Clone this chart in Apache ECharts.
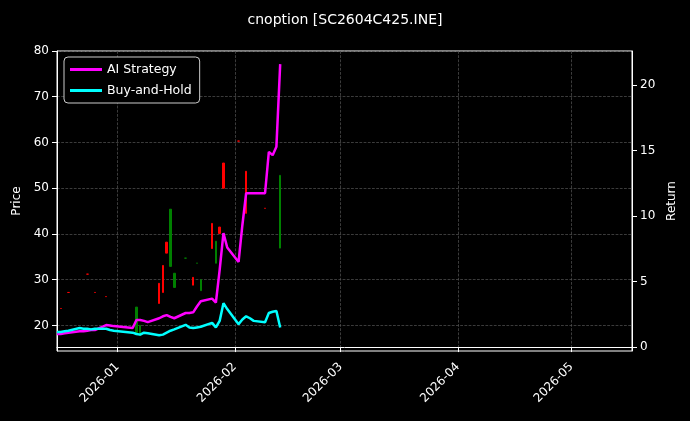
<!DOCTYPE html>
<html><head><meta charset="utf-8">
<script src="https://cdn.jsdelivr.net/npm/echarts@6/dist/echarts.min.js"></script>
<style>html,body{margin:0;background:#000}#c{width:690px;height:421px}</style>
</head><body><div id="c"></div>
<script>
const dates = ['2025-12-16','2025-12-17','2025-12-18','2025-12-19','2025-12-22','2025-12-23','2025-12-24','2025-12-25','2025-12-26','2025-12-29','2025-12-30','2025-12-31',
'2026-01-05','2026-01-06','2026-01-07','2026-01-08','2026-01-09','2026-01-12','2026-01-13','2026-01-14','2026-01-15','2026-01-16',
'2026-01-19','2026-01-20','2026-01-21','2026-01-22','2026-01-23','2026-01-26','2026-01-27','2026-01-28','2026-01-29','2026-01-30',
'2026-02-02','2026-02-03','2026-02-04','2026-02-05','2026-02-06','2026-02-09','2026-02-10','2026-02-11','2026-02-12','2026-02-13'];
const aiStrategy = [1.0,1.0,1.05,1.1,1.2,1.2,1.25,1.3,1.3,1.68,1.65,1.6,
1.45,2.06,2.06,2.0,1.9,2.2,2.35,2.44,2.3,2.2,
2.6,2.6,2.65,3.1,3.5,3.7,3.4,5.9,8.7,7.6,
6.5,9.3,11.75,11.75,11.75,11.75,14.9,14.65,15.3,21.6];
const buyHold = [1.15,1.15,1.2,1.25,1.45,1.4,1.4,1.35,1.4,1.4,1.3,1.25,
1.1,1.0,0.95,1.1,1.05,0.9,0.95,1.1,1.25,1.35,
1.7,1.5,1.45,1.5,1.55,1.85,1.5,2.0,3.35,2.9,
1.75,2.1,2.35,2.2,2.0,1.9,2.6,2.7,2.75,1.5];
// [open, close, low, high]; null = no trade
const ohlc = [null,[23.7,23.7,23.7,23.7],null,[27.2,27.2,27.2,27.2],null,null,[31.2,31.2,31.2,31.2],null,[27.2,27.2,27.2,27.2],[26.3,26.3,26.3,26.3],null,null,
null,[18.3,24,18.3,24],[17.8,20,17.8,20],null,null,[29.2,24.8,24.8,29.2],[33.1,27.2,27.2,33.1],[38.2,35.8,35.8,38.2],[32.9,45.4,32.9,45.4],[28.3,31.4,28.3,31.4],
[34.7,34.7,34.7,34.7],null,[30.5,28.8,28.8,30.5],[33.6,33.6,33.6,33.6],[27.6,30,27.6,30],[42.3,36.8,36.8,42.3],[33.6,38.4,33.6,38.4],[41.5,40.1,40.1,41.5],[55.5,50,50,55.5],null,
[60.3,60.3,60.3,60.3],null,[53.7,44.5,44.5,53.7],null,null,[45.6,45.6,45.6,45.6],null,null,null,[36.9,52.8,36.9,52.8]];
const priceTicks = [20,30,40,50,60,70,80];
const returnTicks = [0,5,10,15,20];

const ts = d => new Date(d + 'T00:00:00').getTime();
const candleData = dates.map((d,i)=> ohlc[i] ? [ts(d), ...ohlc[i]] : [ts(d),'-','-','-','-']);
const font = 'DejaVu Sans';
const chart = echarts.init(document.getElementById('c'));
chart.setOption({
  backgroundColor:'#000',
  animation:false,
  textStyle:{fontFamily:font},
  title:{text:'cnoption [SC2604C425.INE]',left:'center',top:8,textStyle:{color:'#fff',fontSize:14,fontWeight:'normal',fontFamily:font}},
  grid:{left:57,right:58,top:51,bottom:70,show:true,borderColor:'#fff',borderWidth:1},
  legend:{left:64,top:57,orient:'vertical',itemGap:8,itemWidth:32,itemHeight:3,icon:'rect',
    backgroundColor:'#000',borderColor:'#ccc',borderWidth:1,borderRadius:4,padding:[6,8,6,6],
    textStyle:{color:'#fff',fontSize:12.5,fontFamily:font},data:['AI Strategy','Buy-and-Hold']},
  xAxis:{type:'time',min:ts('2025-12-16'),max:ts('2026-05-17'),splitNumber:5,
    axisLine:{lineStyle:{color:'#fff'}},axisTick:{lineStyle:{color:'#fff'}},
    axisLabel:{rotate:45,color:'#fff',fontSize:12,margin:14,hideOverlap:false,
      formatter:v=>{const d=new Date(v);return d.getFullYear()+'-'+String(d.getMonth()+1).padStart(2,'0');}},
    minorTick:{show:false},
    splitLine:{show:true,lineStyle:{color:'#555',type:'dashed',width:0.7}}},
  yAxis:[{type:'value',min:14.4,max:80,name:'Price',nameLocation:'middle',nameGap:32,nameRotate:90,nameTextStyle:{color:'#fff',fontSize:12},
    axisLine:{show:true,lineStyle:{color:'#fff'}},axisTick:{show:true,customValues:priceTicks,lineStyle:{color:'#fff'}},
    axisLabel:{customValues:priceTicks,color:'#fff',fontSize:12},
    splitLine:{show:true,lineStyle:{color:'#555',type:'dashed',width:0.7}}},
   {type:'value',min:-0.3,max:22.6,name:'Return',nameLocation:'middle',nameGap:32,nameRotate:90,nameTextStyle:{color:'#fff',fontSize:12},
    axisLine:{show:true,lineStyle:{color:'#fff'}},axisTick:{show:true,customValues:returnTicks,lineStyle:{color:'#fff'}},
    axisLabel:{customValues:returnTicks,color:'#fff',fontSize:12},splitLine:{show:false}}],
  series:[
    {type:'candlestick',yAxisIndex:0,data:candleData,barWidth:2,
      itemStyle:{color:'#008000',color0:'#ff0000',borderColor:'#008000',borderColor0:'#ff0000',borderWidth:1}},
    {name:'AI Strategy',type:'line',yAxisIndex:1,data:dates.map((d,i)=>[ts(d),aiStrategy[i]]),symbol:'none',lineStyle:{color:'#ff00ff',width:2.5},itemStyle:{color:'#ff00ff'}},
    {name:'Buy-and-Hold',type:'line',yAxisIndex:1,data:dates.map((d,i)=>[ts(d),buyHold[i]]),symbol:'none',lineStyle:{color:'#00ffff',width:2.5},itemStyle:{color:'#00ffff'}}
  ]
});
</script></body></html>
